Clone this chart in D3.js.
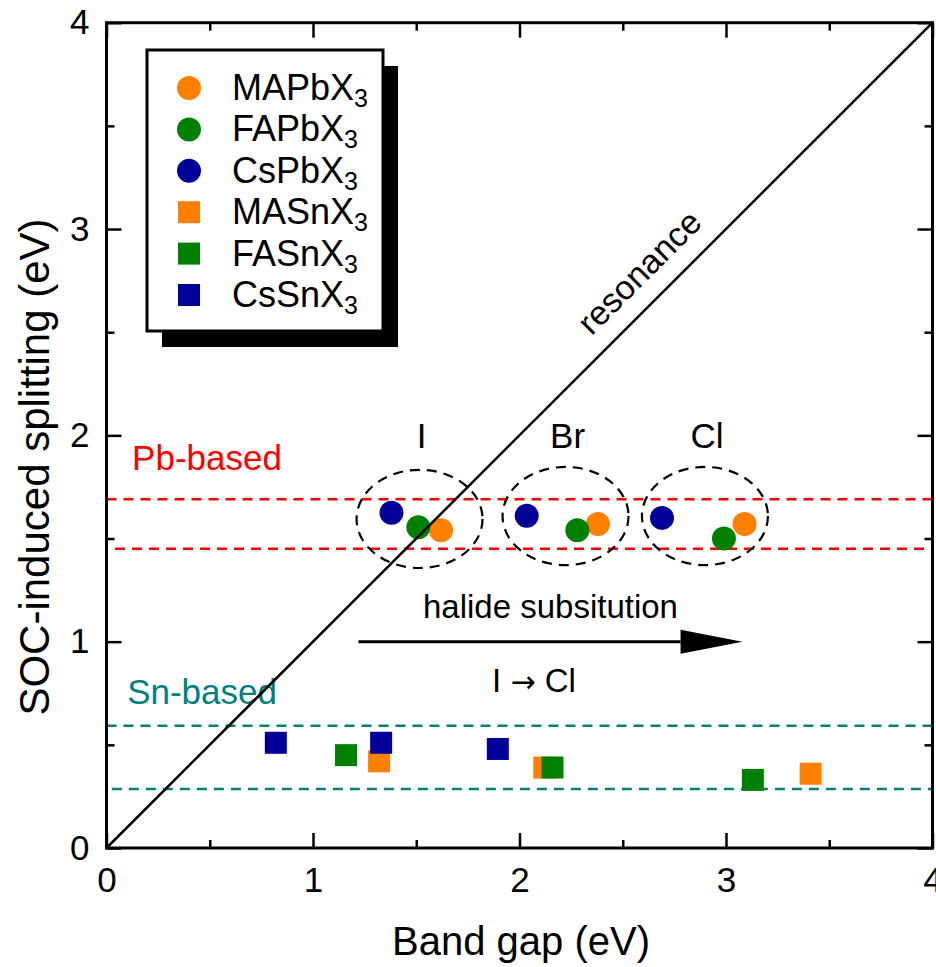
<!DOCTYPE html>
<html>
<head>
<meta charset="utf-8">
<script src="https://cdn.jsdelivr.net/npm/d3@7"></script>
<style>
  body { margin: 0; background: #fff; }
  text { font-family: "Liberation Sans", Arial, sans-serif; }
</style>
</head>
<body>
<svg id="chart" width="936" height="967"></svg>
<script>
// band gap (x) and SOC splitting (y), order I, Br, Cl
const halides = ["I", "Br", "Cl"];
const mapbGap = [1.62, 2.38, 3.09], mapbSoc = [1.54, 1.57, 1.57];
const fapbGap = [1.51, 2.28, 2.99], fapbSoc = [1.555, 1.54, 1.50];
const cspbGap = [1.38, 2.035, 2.69], cspbSoc = [1.625, 1.61, 1.60];
const masnGap = [1.32, 2.12, 3.41], masnSoc = [0.42, 0.39, 0.36];
const fasnGap = [1.16, 2.16, 3.13], fasnSoc = [0.45, 0.39, 0.33];
const cssnGap = [0.82, 1.33, 1.895], cssnSoc = [0.51, 0.51, 0.48];

const seriesNames = ["MAPbX", "FAPbX", "CsPbX", "MASnX", "FASnX", "CsSnX"];
const seriesColors = ["#ff8000", "#008000", "#000099", "#ff8000", "#008000", "#000099"];

const pbBand = [1.45, 1.69];
const snBand = [0.286, 0.593];
// dashed groups around each halide: center x, center y
const groupX = [1.516, 2.223, 2.898], groupY = [1.595, 1.609, 1.609];

const xTicks = [0, 1, 2, 3, 4];
const yTicks = [0, 1, 2, 3, 4];

const margin = {top: 22.7, right: 3.5, bottom: 119, left: 106.5};
const width = 936 - margin.left - margin.right;
const height = 967 - margin.top - margin.bottom;

const svg = d3.select("#chart");
const g = svg.append("g").attr("transform", `translate(${margin.left},${margin.top})`);

const x = d3.scaleLinear().domain([0, 4]).range([0, width]);
const y = d3.scaleLinear().domain([0, 4]).range([height, 0]);

// bands
let drawBand = (band, color) => {
  g.append("rect")
    .attr("x", x(0)).attr("width", x(4) - x(0))
    .attr("y", y(band[1])).attr("height", y(band[0]) - y(band[1]))
    .attr("fill", "none").attr("stroke", color)
    .attr("stroke-width", 2.5).attr("stroke-dasharray", "10,7");
};
drawBand(pbBand, "#ff0000");
drawBand(snBand, "#008080");

g.append("text").attr("x", x(0.124)).attr("y", y(1.83))
  .attr("font-size", 35).attr("fill", "#ff0000").text("Pb-based");
g.append("text").attr("x", x(0.10)).attr("y", y(0.70))
  .attr("font-size", 35).attr("fill", "#008080").text("Sn-based");

// group ellipses
g.selectAll(".grp").data(halides).enter().append("ellipse")
  .attr("class", "grp")
  .attr("cx", (d, i) => x(groupX[i])).attr("cy", (d, i) => y(groupY[i]))
  .attr("rx", x(0.305) - x(0)).attr("ry", y(0) - y(0.238))
  .attr("fill", "none").attr("stroke", "#000")
  .attr("stroke-width", 2.2).attr("stroke-dasharray", "10,7");

g.selectAll(".hal").data(halides).enter().append("text")
  .attr("class", "hal")
  .attr("x", (d, i) => x(groupX[i]) + 2).attr("y", y(1.94))
  .attr("text-anchor", "middle").attr("font-size", 35).text(d => d);

// markers
let circles = (gap, soc, color) => {
  g.selectAll(null).data(gap).enter().append("circle")
    .attr("cx", d => x(d)).attr("cy", (d, i) => y(soc[i]))
    .attr("r", 12).attr("fill", color);
};
let squares = (gap, soc, color) => {
  g.selectAll(null).data(gap).enter().append("rect")
    .attr("x", d => x(d) - 11).attr("y", (d, i) => y(soc[i]) - 11)
    .attr("width", 22).attr("height", 22).attr("fill", color);
};
circles(mapbGap, mapbSoc, seriesColors[0]);
circles(cspbGap, cspbSoc, seriesColors[2]);
circles(fapbGap, fapbSoc, seriesColors[1]);
squares(masnGap, masnSoc, seriesColors[3]);
squares(fasnGap, fasnSoc, seriesColors[4]);
squares(cssnGap, cssnSoc, seriesColors[5]);

// resonance line
g.append("line")
  .attr("x1", x(0)).attr("y1", y(0)).attr("x2", x(4)).attr("y2", y(4))
  .attr("stroke", "#000").attr("stroke-width", 2.5);
g.append("text")
  .attr("transform", `translate(${x(2.579)},${y(2.792)}) rotate(-45)`)
  .attr("text-anchor", "middle").attr("dominant-baseline", "central")
  .attr("font-size", 34).text("resonance");

// halide substitution arrow
g.append("line")
  .attr("x1", x(1.22)).attr("y1", y(1.0)).attr("x2", x(2.78)).attr("y2", y(1.0))
  .attr("stroke", "#000").attr("stroke-width", 3);
g.append("path")
  .attr("d", `M${x(2.78)},${y(1.0) - 12}L${x(3.08)},${y(1.0)}L${x(2.78)},${y(1.0) + 12}Z`)
  .attr("fill", "#000");
g.append("text").attr("x", x(2.15)).attr("y", y(1.115))
  .attr("text-anchor", "middle").attr("font-size", 33).text("halide subsitution");
const arrowLbl = g.append("text").attr("x", x(2.07)).attr("y", y(0.756))
  .attr("text-anchor", "middle").attr("font-size", 33);
arrowLbl.append("tspan").text("I ");
arrowLbl.append("tspan").attr("font-family", "DejaVu Sans").attr("font-size", 30).text("\u2192");
arrowLbl.append("tspan").text(" Cl");

// axes, ticks inward on all sides
let styleAxis = sel => {
  sel.select(".domain").remove();
  sel.selectAll(".tick line").attr("stroke", "#000").attr("stroke-width", 2.5);
  sel.selectAll("text").attr("font-family", "Liberation Sans, Arial, sans-serif")
    .attr("font-size", 35).attr("fill", "#000");
};
let minor = d3.range(0.5, 4, 1);

g.append("g").attr("transform", `translate(0,${height})`)
  .call(d3.axisBottom(x).tickValues(xTicks).tickFormat(d3.format("d")).tickSizeInner(-15).tickPadding(19))
  .call(styleAxis);
g.append("g").attr("transform", `translate(0,${height})`)
  .call(d3.axisBottom(x).tickValues(minor).tickFormat("").tickSizeInner(-8))
  .call(styleAxis);
g.append("g")
  .call(d3.axisTop(x).tickValues(xTicks).tickFormat("").tickSizeInner(-15))
  .call(styleAxis);
g.append("g")
  .call(d3.axisTop(x).tickValues(minor).tickFormat("").tickSizeInner(-8))
  .call(styleAxis);
g.append("g")
  .call(d3.axisLeft(y).tickValues(yTicks).tickFormat(d3.format("d")).tickSizeInner(-15).tickPadding(17))
  .call(styleAxis);
g.append("g")
  .call(d3.axisLeft(y).tickValues(minor).tickFormat("").tickSizeInner(-8))
  .call(styleAxis);
g.append("g").attr("transform", `translate(${width},0)`)
  .call(d3.axisRight(y).tickValues(yTicks).tickFormat("").tickSizeInner(-15))
  .call(styleAxis);
g.append("g").attr("transform", `translate(${width},0)`)
  .call(d3.axisRight(y).tickValues(minor).tickFormat("").tickSizeInner(-8))
  .call(styleAxis);

g.append("rect").attr("width", width).attr("height", height)
  .attr("fill", "none").attr("stroke", "#000").attr("stroke-width", 3);

// axis titles
svg.append("text").attr("x", 521).attr("y", 955)
  .attr("text-anchor", "middle").attr("font-size", 40).text("Band gap (eV)");
svg.append("text").attr("transform", "translate(49,467) rotate(-90)")
  .attr("text-anchor", "middle").attr("font-size", 42).text("SOC-induced splitting (eV)");

// legend
const lg = svg.append("g").attr("transform", "translate(147,50)");
lg.append("rect").attr("x", 15).attr("y", 16).attr("width", 236).attr("height", 281).attr("fill", "#000");
lg.append("rect").attr("x", 0).attr("y", 0).attr("width", 236).attr("height", 281)
  .attr("fill", "#fff").attr("stroke", "#000").attr("stroke-width", 3);

const rows = lg.selectAll(".row").data(seriesNames).enter().append("g")
  .attr("class", "row")
  .attr("transform", (d, i) => `translate(42,${38 + i * 41.4})`);
rows.each(function(d, i) {
  const r = d3.select(this);
  if (i < 3) r.append("circle").attr("r", 12).attr("fill", seriesColors[i]);
  else r.append("rect").attr("x", -11).attr("y", -11).attr("width", 22).attr("height", 22).attr("fill", seriesColors[i]);
  const t = r.append("text").attr("x", 43).attr("y", 12).attr("font-size", 36);
  t.append("tspan").text(d);
  t.append("tspan").attr("font-size", 25).attr("dy", 7).text("3");
});
</script>
</body>
</html>
